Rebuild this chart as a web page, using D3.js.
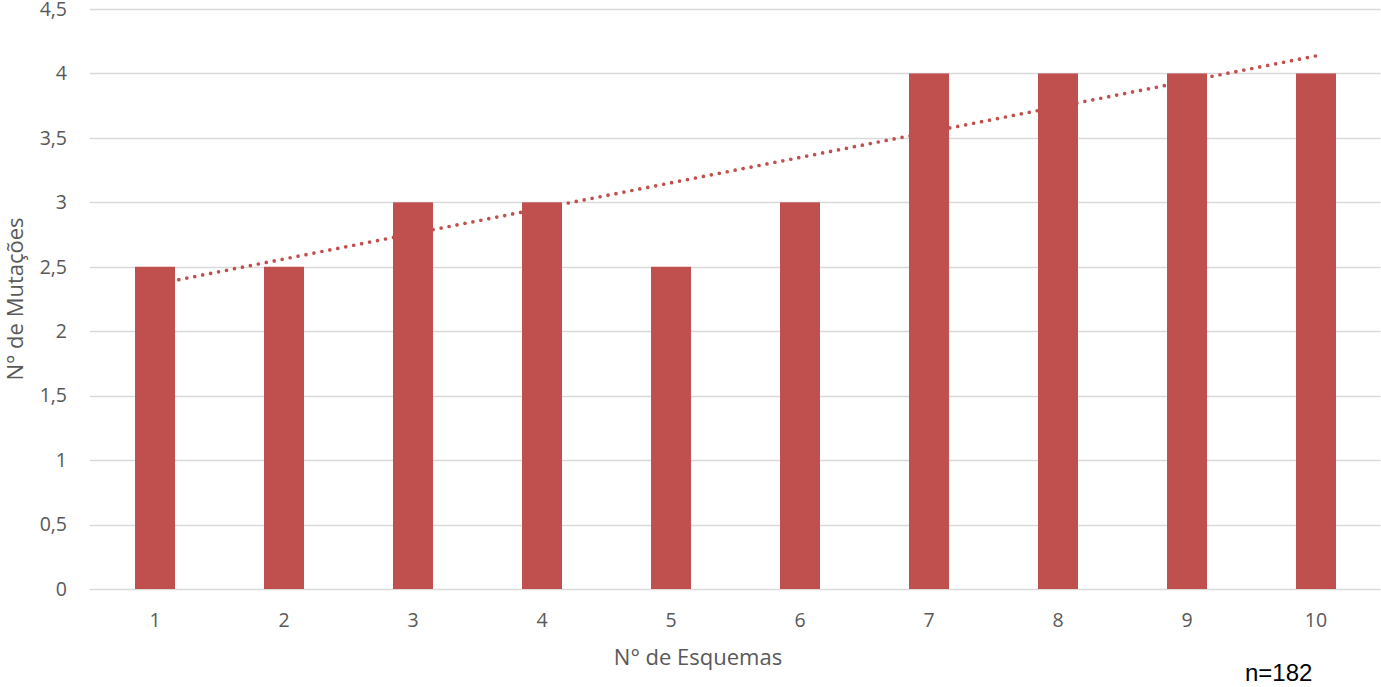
<!DOCTYPE html>
<html><head><meta charset="utf-8">
<script src="https://cdn.jsdelivr.net/npm/d3@7"></script>
<style>body{margin:0;background:#fff;} svg{display:block;}</style>
</head><body>
<svg id="c" width="1381" height="687"></svg>
<script>
const categories = ["1","2","3","4","5","6","7","8","9","10"];
const values = [2.5, 2.5, 3, 3, 2.5, 3, 4, 4, 4, 4];
const yTicks = [0, 0.5, 1, 1.5, 2, 2.5, 3, 3.5, 4, 4.5];
const xTitle = "N° de Esquemas";
const yTitle = "N° de Mutações";
const note = "n=182";

(function () {
const svg = d3.select("#c");
const font = "'Open Sans', sans-serif";
const textColor = "#595959";
const pL = 90.5, pR = 1380.5, pT = 9, pB = 589;

const x = d3.scaleBand().domain(categories).range([pL, pR]).paddingInner(0.69).paddingOuter(0.345);
const y = d3.scaleLinear().domain([0, 4.5]).range([pB, pT]);

// gridlines
svg.append("g").selectAll("line").data(yTicks).join("line")
  .attr("x1", pL - 0.5).attr("x2", pR)
  .attr("y1", d => Math.round(y(d)) + 0.5).attr("y2", d => Math.round(y(d)) + 0.5)
  .attr("stroke", "#d9d9d9").attr("stroke-width", 1.3);

// y tick labels
const fmt = d => String(d).replace(".", ",");
svg.append("g").selectAll("text").data(yTicks).join("text")
  .attr("x", 67).attr("y", d => y(d)).attr("dy", "0.35em")
  .attr("text-anchor", "end").attr("font-family", font).attr("font-size", 19.5)
  .attr("fill", textColor).text(fmt);

// trendline (linear regression) behind bars
const xs = categories.map((c, i) => i + 1);
const mx = d3.mean(xs), my = d3.mean(values);
const slope = d3.sum(xs, (v, i) => (v - mx) * (values[i] - my)) / d3.sum(xs, v => (v - mx) ** 2);
const icpt = my - slope * mx;
const trend = [categories[0], categories[categories.length - 1]].map(c => ({c, v: icpt + slope * (+c)}));
svg.append("path").datum(trend)
  .attr("d", d3.line().x(d => x(d.c) + x.bandwidth() / 2).y(d => y(d.v)))
  .attr("fill", "none").attr("stroke", "#C0504D").attr("stroke-width", 3.7)
  .attr("stroke-linecap", "round").attr("stroke-dasharray", "0 8.1");

// bars
svg.append("g").selectAll("rect").data(values).join("rect")
  .attr("x", (d, i) => x(categories[i])).attr("width", x.bandwidth())
  .attr("y", d => y(d)).attr("height", d => y(0) - y(d))
  .attr("fill", "#C0504D");

// x tick labels
svg.append("g").selectAll("text").data(categories).join("text")
  .attr("x", d => x(d) + x.bandwidth() / 2).attr("y", 627)
  .attr("text-anchor", "middle").attr("font-family", font).attr("font-size", 19.5)
  .attr("fill", textColor).text(d => d);

// axis titles
svg.append("text").attr("x", 698).attr("y", 665).attr("text-anchor", "middle")
  .attr("font-family", font).attr("font-size", 22).attr("fill", textColor).text(xTitle);
svg.append("text").attr("transform", "translate(23,299) rotate(-90)").attr("text-anchor", "middle")
  .attr("font-family", font).attr("font-size", 22).attr("fill", textColor).text(yTitle);

// note
svg.append("text").attr("x", 1245).attr("y", 681)
  .attr("font-family", "'Liberation Sans', Arial, sans-serif").attr("font-size", 24)
  .attr("fill", "#000").text(note);
})();
</script>
</body></html>
